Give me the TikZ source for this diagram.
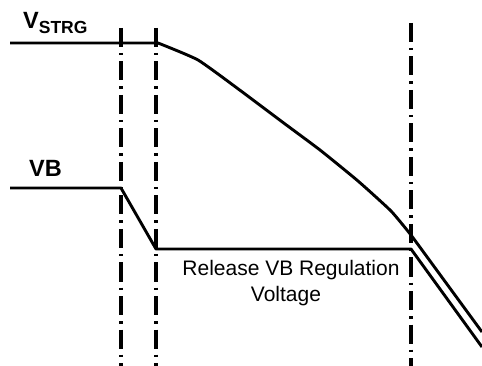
\documentclass[tikz,border=0pt]{standalone}
\usepackage{fontspec}
\setmainfont{Liberation Sans}
\begin{document}
\begin{tikzpicture}[x=1pt,y=-1pt,
  wave/.style={line width=2.9pt, line join=round},
  marker/.style={line width=3.4pt, dash pattern=on 19pt off 6pt on 2.5pt off 6pt},
  lbl/.style={font=\bfseries\fontsize{23.5}{23.5}\selectfont, inner sep=0, anchor=base west},
  note/.style={font=\fontsize{21}{21}\selectfont, inner sep=0, anchor=base}]
\useasboundingbox (0,0) rectangle (482,366);
% vertical markers
\coordinate (m1t) at (121,28);  \coordinate (m1b) at (121,366);
\coordinate (m2t) at (156,28);  \coordinate (m2b) at (156,366);
\coordinate (m3t) at (411,23);  \coordinate (m3b) at (411,366);
\draw[marker] (m1t) -- (m1b);
\draw[marker] (m2t) -- (m2b);
\draw[marker] (m3t) -- (m3b);
% VSTRG waveform
\coordinate (s0) at (10,43);
\coordinate (s1) at (158,43);
\coordinate (s9) at (482,332);
\draw[wave] (s0) -- (s1) -- plot[smooth, tension=0.3] coordinates {(158,43) (198,60) (241,91) (281,121) (320,150) (358,181) (391,211) (411,235)} -- (s9);
% VB waveform
\coordinate (b0) at (10,188);
\coordinate (b1) at (121,188);
\coordinate (b2) at (156,249);
\coordinate (b3) at (411,249);
\coordinate (b4) at (482,347);
\draw[wave] (b0) -- (b1) -- (b2) -- (b3) -- (b4);
% labels
\node[lbl] (vstrg) at (23,29) {V{\fontsize{17.5}{17.5}\selectfont\raisebox{-5pt}{STRG}}};
\node[lbl] (vb) at (29,177) {VB};
\node[note] (rel1) at (291,276) {Release VB Regulation};
\node[note] (rel2) at (286,301) {Voltage};
\end{tikzpicture}
\end{document}
